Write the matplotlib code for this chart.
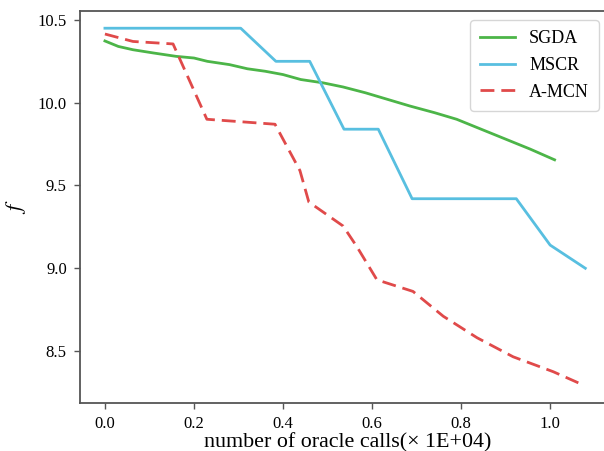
import matplotlib
matplotlib.use("Agg")
import matplotlib.pyplot as plt

# =========================
# data
# =========================
sgda_x = [0.0, 0.03, 0.063, 0.11, 0.16, 0.2, 0.23, 0.28, 0.32, 0.36, 0.4, 0.44,
          0.49, 0.535, 0.585, 0.635, 0.685, 0.74, 0.79, 0.845, 0.90, 0.955, 1.01]
sgda_y = [10.373, 10.34, 10.32, 10.30, 10.28, 10.27, 10.25, 10.23, 10.205, 10.19, 10.17, 10.14,
          10.12, 10.095, 10.06, 10.02, 9.98, 9.94, 9.90, 9.84, 9.78, 9.72, 9.655]

mscr_x = [0.0, 0.305, 0.384, 0.46, 0.537, 0.614, 0.69, 0.924, 1.0, 1.079]
mscr_y = [10.45, 10.45, 10.25, 10.25, 9.84, 9.84, 9.42, 9.42, 9.14, 9.0]

amcn_x = [0.0, 0.063, 0.153, 0.229, 0.382, 0.438, 0.458, 0.535, 0.566, 0.611,
          0.692, 0.76, 0.836, 0.917, 1.007, 1.074]
amcn_y = [10.415, 10.37, 10.355, 9.90, 9.87, 9.59, 9.40, 9.255, 9.13, 8.93,
          8.86, 8.71, 8.58, 8.465, 8.375, 8.295]

plt.rcParams["font.family"] = ["Liberation Serif", "DejaVu Serif"]
plt.rcParams["mathtext.fontset"] = "stix"

# =========================
# plot
# =========================
fig = plt.figure(figsize=(6.04, 4.51), dpi=100)
ax = fig.add_axes([80 / 604, 48 / 451, 524 / 604, 392 / 451])

ax.plot(sgda_x, sgda_y, color="#4cb548", lw=2.0, label="SGDA")
ax.plot(mscr_x, mscr_y, color="#58bfe0", lw=2.0, label="MSCR")
ax.plot(amcn_x, amcn_y, color="#e04a4a", lw=2.0, ls=(0, (5, 2.5)), label="A-MCN")

ax.set_xlim(-0.056, 1.121)
ax.set_ylim(8.186, 10.554)
ax.set_xticks([0.0, 0.2, 0.4, 0.6, 0.8, 1.0])
ax.set_yticks([8.5, 9.0, 9.5, 10.0, 10.5])

for side in ["left", "bottom", "top"]:
    ax.spines[side].set_color("#555555")
    ax.spines[side].set_linewidth(1.3)
ax.spines["right"].set_visible(False)
ax.tick_params(direction="out", length=4.5, width=1.0, color="#555555",
               labelsize=12, pad=5)

# labels
ax.set_xlabel("number of oracle calls(× 1E+04)", fontsize=15.8, va="top")
ax.xaxis.set_label_coords(0.511, -0.076)
ax.set_ylabel("$f$", fontsize=16)
ax.yaxis.set_label_coords(-0.099, 0.5)

ax.legend(loc="upper right", fontsize=13, frameon=True, fancybox=True,
          edgecolor="#cccccc", handlelength=1.9, handletextpad=0.8,
          borderpad=0.55, borderaxespad=0, labelspacing=0.55,
          bbox_to_anchor=(0.99, 0.977))

fig.savefig("out.png", dpi=100)
